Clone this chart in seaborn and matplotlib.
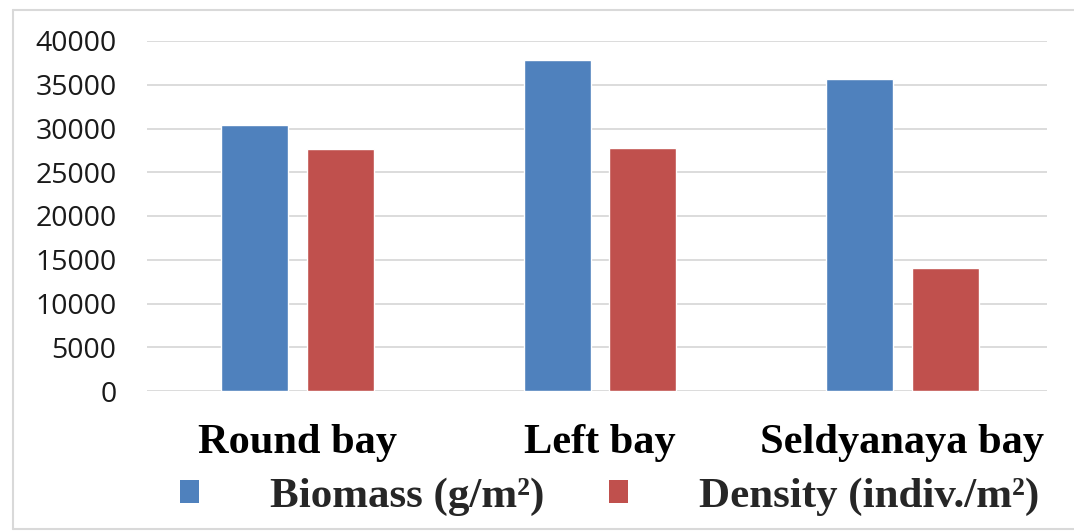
import matplotlib
matplotlib.use("Agg")
import matplotlib.pyplot as plt
import seaborn as sns
import pandas as pd
from matplotlib.lines import Line2D
from matplotlib.patches import Patch

categories = ["Round bay", "Left bay", "Seldyanaya bay"]
biomass = [30400, 37800, 35700]
density = [27600, 27750, 14100]
series_names = ["Biomass (g/m²)", "Density (indiv./m²)"]
colors = ["#4f81bd", "#c0504d"]
yticks = [0, 5000, 10000, 15000, 20000, 25000, 30000, 35000, 40000]

df = pd.DataFrame({
    "bay": categories * 2,
    "value": biomass + density,
    "series": [series_names[0]] * 3 + [series_names[1]] * 3,
})

sns.set_theme(style="white")
fig = plt.figure(figsize=(10.74, 5.31), dpi=100)
ax = fig.add_axes([147 / 1074, 1 - 391 / 531, 900 / 1074, 350 / 531])

sns.barplot(data=df, x="bay", y="value", hue="series", palette=colors,
            width=0.5656, gap=0.2165, errorbar=None, ax=ax, legend=False,
            saturation=1, zorder=3)

ax.set_ylim(0, 40000)
ax.set_xlim(-0.4985, 2.478)
ax.set_yticks(yticks)
ax.set_yticklabels([str(v) for v in yticks], fontsize=20.5, family="Open Sans", color="#1a1a1a")
ax.yaxis.grid(True, color="#d9d9d9", linewidth=1.3, zorder=0)
ax.set_axisbelow(True)
for s in ax.spines.values():
    s.set_visible(False)
ax.tick_params(axis="y", length=0, pad=22)
ax.tick_params(axis="x", length=0, pad=24)
ax.set_xlabel("")
ax.set_ylabel("")
for lbl in ax.get_xticklabels():
    lbl.set_fontfamily("Liberation Serif")
    lbl.set_fontweight("bold")
    lbl.set_fontsize(30.5)
    lbl.set_color("black")

handles = [Patch(facecolor=c, edgecolor="none") for c in colors]
leg = fig.legend(handles, series_names, loc="center", bbox_to_anchor=(610 / 1074, 1 - 497 / 531),
                 ncol=2, frameon=False, handlelength=0.44, handleheight=0.44,
                 handletextpad=1.65, columnspacing=1.5,
                 prop={"family": "Liberation Serif", "weight": "bold", "size": 31})

# outer light border
fig.add_artist(Line2D([13 / 1074, 1.0], [1 - 10 / 531, 1 - 10 / 531], color="#d9d9d9", lw=1.5))
fig.add_artist(Line2D([13 / 1074, 13 / 1074], [1 - 529 / 531, 1 - 10 / 531], color="#d9d9d9", lw=1.5))
fig.add_artist(Line2D([13 / 1074, 1.0], [1 - 529 / 531, 1 - 529 / 531], color="#d9d9d9", lw=1.5))

fig.savefig("out.png", dpi=100)
